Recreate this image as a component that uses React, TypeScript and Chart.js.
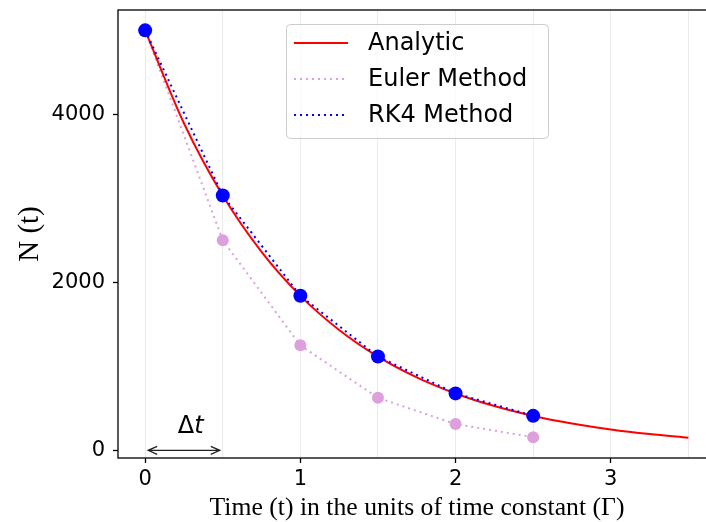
import React, { useEffect, useRef } from "react";
import { Chart, registerables } from "chart.js";

Chart.register(...registerables);

const analyticT = [0, 0.25, 0.5, 0.75, 1, 1.25, 1.5, 1.75, 2, 2.25, 2.5, 2.75, 3, 3.25, 3.5];
const analyticN = [5000, 3894, 3033, 2362, 1839, 1433, 1116, 869, 677, 527, 410, 320, 249, 194, 151];
const stepT = [0, 0.5, 1, 1.5, 2, 2.5];
const eulerN = [5000, 2500, 1250, 625, 313, 156];
const rk4N = [5000, 3034, 1841, 1117, 678, 411];
const xGridValues = [0, 0.5, 1, 1.5, 2, 2.5, 3, 3.5];
const yTickValues = [0, 2000, 4000];
const legendLabels = ["Analytic", "Euler Method", "RK4 Method"];
const xTitle = "Time (t) in the units of time constant (Γ)";
const yTitle = "N (t)";

const RED = "#ff0000";
const PLUM = "#dda0dd";
const BLUE = "#0000ff";

const overlay = {
  id: "overlay",
  afterDatasetsDraw(chart: any) {
    const ctx = chart.ctx;
    const { left, right, top, bottom } = chart.chartArea;
    const xs = chart.scales.x;
    const ys = chart.scales.y;
    ctx.save();
    // frame
    ctx.strokeStyle = "#000";
    ctx.lineWidth = 1.3;
    ctx.strokeRect(left, top, right - left + 4, bottom - top);

    // arrow
    const x0 = xs.getPixelForValue(0) + 3;
    const x1 = xs.getPixelForValue(0.5) - 3;
    const ya = ys.getPixelForValue(0);
    ctx.strokeStyle = "#222";
    ctx.lineWidth = 1.3;
    ctx.beginPath();
    ctx.moveTo(x0, ya);
    ctx.lineTo(x1, ya);
    ctx.moveTo(x0 + 9, ya - 4);
    ctx.lineTo(x0, ya);
    ctx.lineTo(x0 + 9, ya + 4);
    ctx.moveTo(x1 - 9, ya - 4);
    ctx.lineTo(x1, ya);
    ctx.lineTo(x1 - 9, ya + 4);
    ctx.stroke();

    // delta t
    const tx = xs.getPixelForValue(0.21);
    const ty = ys.getPixelForValue(210);
    ctx.fillStyle = "#000";
    ctx.textBaseline = "alphabetic";
    ctx.textAlign = "left";
    ctx.font = "24px 'DejaVu Sans'";
    ctx.fillText("Δ", tx, ty);
    const w = ctx.measureText("Δ").width;
    ctx.font = "italic 24px 'DejaVu Sans'";
    ctx.fillText("t", tx + w, ty);

    // legend
    const lx = 286, ly = 24, lw = 262, lh = 114;
    ctx.fillStyle = "rgba(255,255,255,0.8)";
    ctx.strokeStyle = "#cccccc";
    ctx.lineWidth = 1;
    ctx.beginPath();
    ctx.roundRect(lx + 0.5, ly + 0.5, lw, lh, 4);
    ctx.fill();
    ctx.stroke();
    const colors = [RED, PLUM, BLUE];
    const dashes = [[], [2, 4], [2, 4]];
    const rows = [43, 79, 115];
    ctx.font = "24px 'DejaVu Sans'";
    ctx.textBaseline = "middle";
    for (let i = 0; i < 3; i++) {
      ctx.strokeStyle = colors[i];
      ctx.lineWidth = 2;
      ctx.setLineDash(dashes[i]);
      ctx.beginPath();
      ctx.moveTo(294, rows[i]);
      ctx.lineTo(348, rows[i]);
      ctx.stroke();
      ctx.setLineDash([]);
      ctx.fillStyle = "#000";
      ctx.fillText(legendLabels[i], 368, rows[i] + 1);
    }

    // axis titles
    ctx.fillStyle = "#000";
    ctx.font = "25.7px 'Liberation Serif'";
    ctx.textAlign = "center";
    ctx.textBaseline = "middle";
    ctx.fillText(xTitle, 417, 508);
    ctx.translate(30, (top + bottom) / 2);
    ctx.rotate(-Math.PI / 2);
    ctx.font = "29px 'Liberation Serif'";
    ctx.fillText(yTitle, 0, 0);
    ctx.restore();
  },
};

export default function App() {
  const ref = useRef<HTMLCanvasElement>(null);
  useEffect(() => {
    if (!ref.current) return;
    const chart = new Chart(ref.current, {
      type: "line",
      data: {
        datasets: [
          {
            label: legendLabels[2],
            data: stepT.map((t, i) => ({ x: t, y: rk4N[i] })),
            borderColor: BLUE,
            backgroundColor: BLUE,
            borderWidth: 2,
            borderDash: [2, 4],
            pointRadius: 7,
            pointBorderWidth: 0,
            pointBackgroundColor: BLUE,
          },
          {
            label: legendLabels[0],
            data: analyticT.map((t, i) => ({ x: t, y: analyticN[i] })),
            borderColor: RED,
            borderWidth: 2,
            pointRadius: 0,
            cubicInterpolationMode: "monotone",
          },
          {
            label: legendLabels[1],
            data: stepT.map((t, i) => ({ x: t, y: eulerN[i] })),
            borderColor: PLUM,
            backgroundColor: PLUM,
            borderWidth: 2,
            borderDash: [2, 4],
            pointRadius: 6,
            pointBorderWidth: 0,
            pointBackgroundColor: PLUM,
          },
        ],
      } as any,
      options: {
        animation: false,
        responsive: false,
        devicePixelRatio: 1,
        layout: { padding: { top: 10, right: 0, left: 0, bottom: 0 } },
        plugins: { legend: { display: false }, tooltip: { enabled: false } },
        scales: {
          x: {
            type: "linear",
            min: -0.175,
            max: 3.62,
            afterFit: (s: any) => {
              s.height = 64;
              s.paddingLeft = 0;
              s.paddingRight = 0;
            },
            afterBuildTicks: (s: any) => {
              s.ticks = xGridValues.map((v) => ({ value: v }));
            },
            border: { display: false },
            grid: {
              color: "rgba(176,176,176,0.25)",
              lineWidth: 1,
              tickLength: 5,
              tickColor: (c: any) =>
                c.tick && Number.isInteger(c.tick.value) ? "#000" : "rgba(0,0,0,0)",
              tickWidth: 1.3,
            },
            ticks: {
              autoSkip: false,
              maxRotation: 0,
              padding: 4,
              color: "#000",
              font: { family: "'DejaVu Sans'", size: 21 },
              callback: (v: any) => (Number.isInteger(v) ? String(v) : ""),
            },
          },
          y: {
            type: "linear",
            min: -91,
            max: 5242,
            afterFit: (s: any) => {
              s.width = 118;
              s.paddingTop = 0;
              s.paddingBottom = 0;
            },
            afterBuildTicks: (s: any) => {
              s.ticks = yTickValues.map((v) => ({ value: v }));
            },
            border: { display: false },
            grid: {
              drawOnChartArea: false,
              tickLength: 5,
              tickColor: "#000",
              tickWidth: 1.3,
            },
            ticks: {
              padding: 8,
              color: "#000",
              font: { family: "'DejaVu Sans'", size: 21 },
              callback: (v: any) => String(v),
            },
          },
        },
      },
      plugins: [overlay],
    });
    return () => chart.destroy();
  }, []);
  return (
    <div
      style={{
        position: "absolute",
        left: 0,
        top: 0,
        width: 706,
        height: 522,
        overflow: "hidden",
        background: "#fff",
      }}
    >
      <canvas ref={ref} width={714} height={522} style={{ display: "block" }} />
    </div>
  );
}
